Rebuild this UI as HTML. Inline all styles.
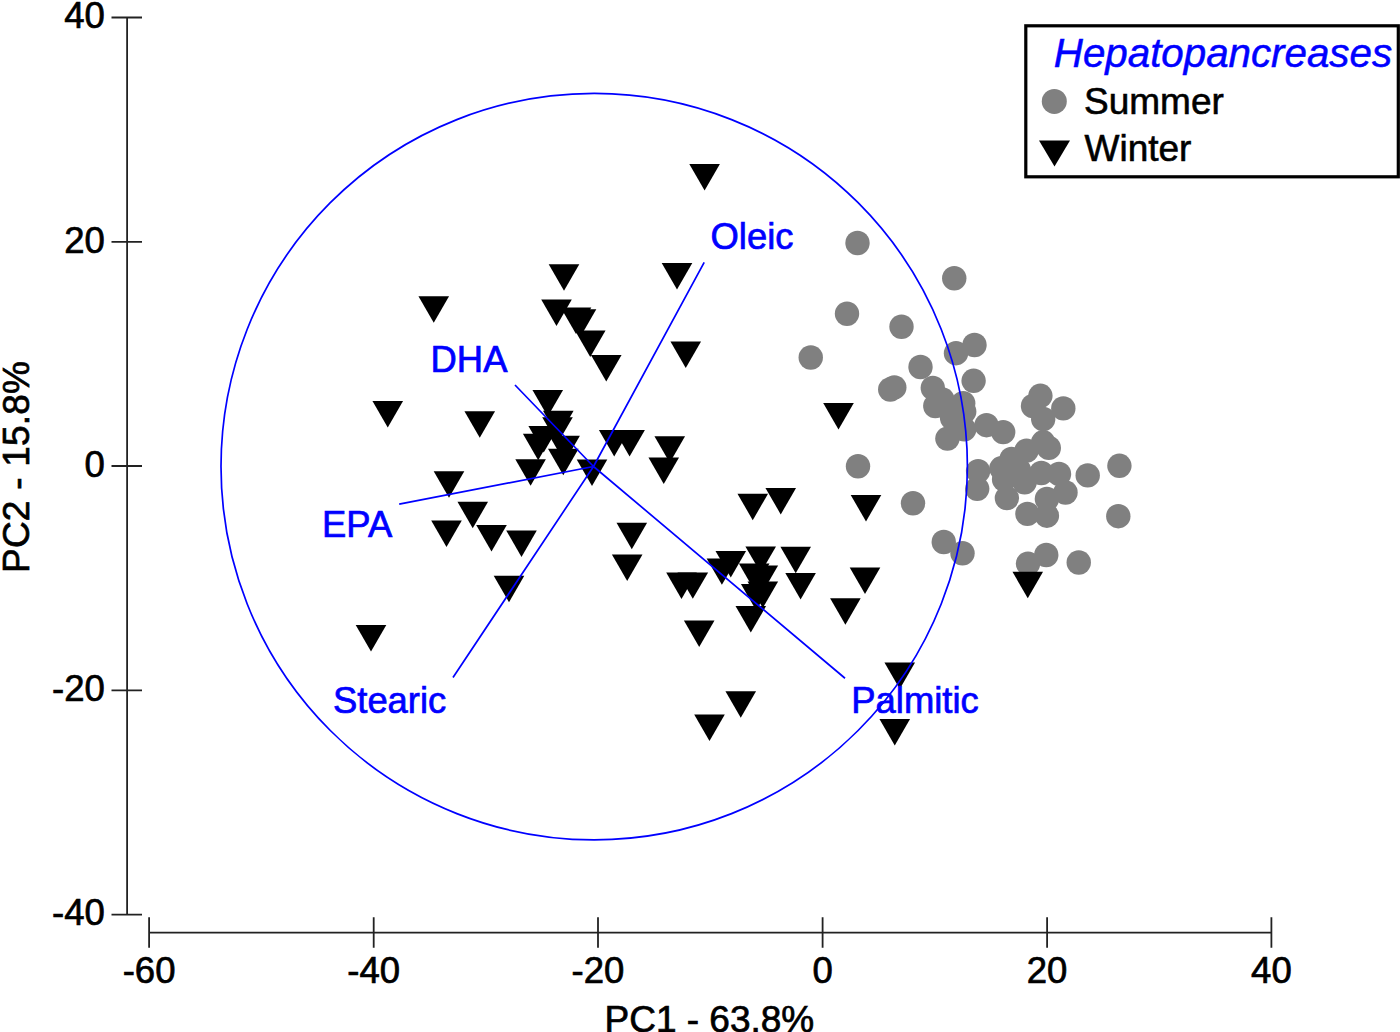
<!DOCTYPE html>
<html><head><meta charset="utf-8">
<style>
html,body{margin:0;padding:0;background:#fff;overflow:hidden}
svg{display:block}
text{font-family:"Liberation Sans",sans-serif}
</style></head><body>
<svg width="1400" height="1032" viewBox="0 0 1400 1032">
<rect width="1400" height="1032" fill="#fff"/>
<g stroke="#222" stroke-width="1.8" fill="none">
<path d="M127.1 17.5V914.6"/>
<path d="M111.5 17.5H142M111.5 241.8H142M111.5 466H142M111.5 690.3H142M111.5 914.6H142"/>
<path d="M149.1 932.6H1271.4"/>
<path d="M149.1 917.3V947.8M373.7 917.3V947.8M598 917.3V947.8M822.6 917.3V947.8M1047.1 917.3V947.8M1271.4 917.3V947.8"/>
</g>
<g font-size="36.5" fill="#000" stroke="#000" stroke-width="0.7">
<g text-anchor="end">
<text x="104.8" y="28.2">40</text>
<text x="104.8" y="252.5">20</text>
<text x="104.8" y="476.7">0</text>
<text x="104.8" y="701">-20</text>
<text x="104.8" y="925.3">-40</text>
</g>
<g text-anchor="middle">
<text x="149.1" y="983.2">-60</text>
<text x="373.7" y="983.2">-40</text>
<text x="598" y="983.2">-20</text>
<text x="822.6" y="983.2">0</text>
<text x="1047.1" y="983.2">20</text>
<text x="1271.4" y="983.2">40</text>
</g>
<text x="604.5" y="1031.5" font-size="37">PC1 - 63.8%</text>
<text transform="translate(28.8,573) rotate(-90)" font-size="37" textLength="212" lengthAdjust="spacing">PC2 - 15.8%</text>
</g>

<g fill="#808080">
<circle cx="857.5" cy="243" r="12.2"/>
<circle cx="954.25" cy="278.25" r="12.2"/>
<circle cx="847" cy="313.75" r="12.2"/>
<circle cx="901.5" cy="326.75" r="12.2"/>
<circle cx="810.75" cy="357.5" r="12.2"/>
<circle cx="974.5" cy="345" r="12.2"/>
<circle cx="956" cy="353.2" r="12.2"/>
<circle cx="920.5" cy="367" r="12.2"/>
<circle cx="973.6" cy="380.8" r="12.2"/>
<circle cx="890.25" cy="389.5" r="12.2"/>
<circle cx="894.3" cy="387.4" r="12.2"/>
<circle cx="932.8" cy="388" r="12.2"/>
<circle cx="942.3" cy="399.5" r="12.2"/>
<circle cx="935.3" cy="406" r="12.2"/>
<circle cx="963.2" cy="403.2" r="12.2"/>
<circle cx="964.2" cy="411.6" r="12.2"/>
<circle cx="952.1" cy="418.1" r="12.2"/>
<circle cx="964.2" cy="429.3" r="12.2"/>
<circle cx="947.4" cy="438.6" r="12.2"/>
<circle cx="986.5" cy="425.2" r="12.2"/>
<circle cx="1003.2" cy="432.1" r="12.2"/>
<circle cx="1040.4" cy="395.8" r="12.2"/>
<circle cx="1033" cy="406" r="12.2"/>
<circle cx="1063.3" cy="408.4" r="12.2"/>
<circle cx="1043.2" cy="419" r="12.2"/>
<circle cx="1043.2" cy="442.3" r="12.2"/>
<circle cx="1048.8" cy="447.9" r="12.2"/>
<circle cx="1026.5" cy="450.7" r="12.2"/>
<circle cx="1011.6" cy="459" r="12.2"/>
<circle cx="1001.4" cy="468.3" r="12.2"/>
<circle cx="978.1" cy="471.1" r="12.2"/>
<circle cx="1004.1" cy="479.5" r="12.2"/>
<circle cx="1019" cy="470.2" r="12.2"/>
<circle cx="1024.6" cy="482.3" r="12.2"/>
<circle cx="1041.3" cy="473" r="12.2"/>
<circle cx="1059" cy="473.9" r="12.2"/>
<circle cx="1087.7" cy="475.4" r="12.2"/>
<circle cx="1119.4" cy="465.8" r="12.2"/>
<circle cx="977.2" cy="488.8" r="12.2"/>
<circle cx="1006.9" cy="498.1" r="12.2"/>
<circle cx="1065.5" cy="492.5" r="12.2"/>
<circle cx="1046.9" cy="499" r="12.2"/>
<circle cx="1027.4" cy="513.9" r="12.2"/>
<circle cx="1046.9" cy="515.7" r="12.2"/>
<circle cx="1118.3" cy="516.2" r="12.2"/>
<circle cx="858" cy="466.25" r="12.2"/>
<circle cx="913" cy="503.25" r="12.2"/>
<circle cx="943.75" cy="542" r="12.2"/>
<circle cx="962.5" cy="553.25" r="12.2"/>
<circle cx="1046.25" cy="555" r="12.2"/>
<circle cx="1028" cy="563.75" r="12.2"/>
<circle cx="1078.75" cy="562.5" r="12.2"/>
</g>
<g fill="#000">
<path d="M418.45 296.25h30.6l-15.30 26.4z"/>
<path d="M548.70 264.25h30.6l-15.30 26.4z"/>
<path d="M541.20 299.50h30.6l-15.30 26.4z"/>
<path d="M560.70 307.50h30.6l-15.30 26.4z"/>
<path d="M565.70 309.25h30.6l-15.30 26.4z"/>
<path d="M574.95 330.50h30.6l-15.30 26.4z"/>
<path d="M590.95 355.00h30.6l-15.30 26.4z"/>
<path d="M661.70 263.00h30.6l-15.30 26.4z"/>
<path d="M670.45 341.50h30.6l-15.30 26.4z"/>
<path d="M689.30 164.10h30.6l-15.30 26.4z"/>
<path d="M532.45 390.00h30.6l-15.30 26.4z"/>
<path d="M372.45 401.00h30.6l-15.30 26.4z"/>
<path d="M464.45 411.25h30.6l-15.30 26.4z"/>
<path d="M543.00 410.80h30.6l-15.30 26.4z"/>
<path d="M542.20 417.20h30.6l-15.30 26.4z"/>
<path d="M528.40 426.00h30.6l-15.30 26.4z"/>
<path d="M522.90 433.80h30.6l-15.30 26.4z"/>
<path d="M549.30 435.80h30.6l-15.30 26.4z"/>
<path d="M548.00 448.80h30.6l-15.30 26.4z"/>
<path d="M515.30 459.30h30.6l-15.30 26.4z"/>
<path d="M576.70 459.50h30.6l-15.30 26.4z"/>
<path d="M598.90 430.00h30.6l-15.30 26.4z"/>
<path d="M614.30 430.00h30.6l-15.30 26.4z"/>
<path d="M654.45 436.25h30.6l-15.30 26.4z"/>
<path d="M648.45 457.50h30.6l-15.30 26.4z"/>
<path d="M433.70 471.25h30.6l-15.30 26.4z"/>
<path d="M457.45 501.75h30.6l-15.30 26.4z"/>
<path d="M431.20 520.50h30.6l-15.30 26.4z"/>
<path d="M476.20 525.00h30.6l-15.30 26.4z"/>
<path d="M506.20 530.50h30.6l-15.30 26.4z"/>
<path d="M493.70 575.75h30.6l-15.30 26.4z"/>
<path d="M355.70 625.00h30.6l-15.30 26.4z"/>
<path d="M616.50 522.80h30.6l-15.30 26.4z"/>
<path d="M611.90 554.60h30.6l-15.30 26.4z"/>
<path d="M666.20 572.50h30.6l-15.30 26.4z"/>
<path d="M677.50 572.40h30.6l-15.30 26.4z"/>
<path d="M706.60 558.40h30.6l-15.30 26.4z"/>
<path d="M715.50 551.10h30.6l-15.30 26.4z"/>
<path d="M745.40 546.40h30.6l-15.30 26.4z"/>
<path d="M780.40 546.80h30.6l-15.30 26.4z"/>
<path d="M785.30 573.00h30.6l-15.30 26.4z"/>
<path d="M738.90 563.50h30.6l-15.30 26.4z"/>
<path d="M747.50 565.50h30.6l-15.30 26.4z"/>
<path d="M747.50 581.50h30.6l-15.30 26.4z"/>
<path d="M740.90 584.00h30.6l-15.30 26.4z"/>
<path d="M735.50 606.10h30.6l-15.30 26.4z"/>
<path d="M683.90 620.60h30.6l-15.30 26.4z"/>
<path d="M737.45 493.75h30.6l-15.30 26.4z"/>
<path d="M765.45 488.00h30.6l-15.30 26.4z"/>
<path d="M823.20 403.00h30.6l-15.30 26.4z"/>
<path d="M850.70 495.00h30.6l-15.30 26.4z"/>
<path d="M849.70 567.50h30.6l-15.30 26.4z"/>
<path d="M830.10 598.25h30.6l-15.30 26.4z"/>
<path d="M1012.45 571.75h30.6l-15.30 26.4z"/>
<path d="M884.45 662.50h30.6l-15.30 26.4z"/>
<path d="M879.45 719.00h30.6l-15.30 26.4z"/>
<path d="M725.45 691.25h30.6l-15.30 26.4z"/>
<path d="M694.20 714.50h30.6l-15.30 26.4z"/>
</g>
<g stroke="#0000ff" stroke-width="1.7" fill="none">
<circle cx="594.2" cy="466.6" r="373.2"/>
<path d="M593.5 466.5L704.2 262.3M593.5 466.5L515 385M593.5 466.5L399.2 504.1M593.5 466.5L453 677.5M593.5 466.5L845 678.25"/>
</g>
<g font-size="36.4" fill="#0000ff" stroke="#0000ff" stroke-width="0.7">
<text x="710.5" y="249">Oleic</text>
<text x="430.6" y="372.4">DHA</text>
<text x="322.1" y="536.9">EPA</text>
<text x="333" y="713">Stearic</text>
<text x="851.3" y="713">Palmitic</text>
</g>
<rect x="1025.8" y="25.8" width="372.5" height="151" fill="#fff" stroke="#000" stroke-width="3.2"/>
<text x="1053.8" y="67.2" font-size="40.3" font-style="italic" fill="#0000ff" stroke="#0000ff" stroke-width="0.5">Hepatopancreases</text>
<circle cx="1054.3" cy="101.4" r="12.5" fill="#808080"/>
<g font-size="37" fill="#000" stroke="#000" stroke-width="0.6">
<text x="1084" y="113.6">Summer</text>
<text x="1084.5" y="161.2">Winter</text>
</g>
<path d="M1039 140.6h31l-15.5 25.8z" fill="#000"/>
</svg>
</body></html>
